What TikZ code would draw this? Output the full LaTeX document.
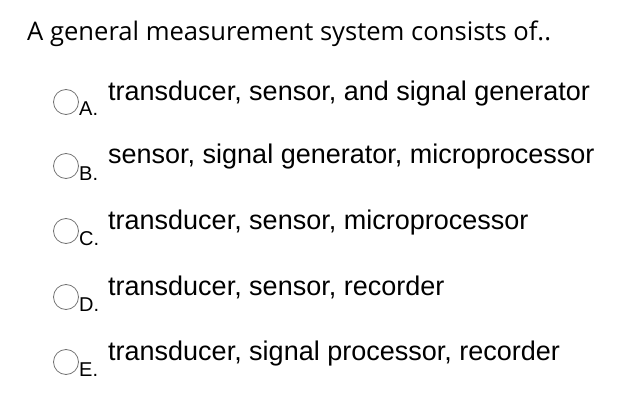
\documentclass[tikz,border=0pt]{standalone}
\usepackage{fontspec}
\setmainfont{Liberation Sans}
\newfontfamily\titlefont{Open Sans}
\begin{document}
\begin{tikzpicture}[x=1pt,y=-1pt,
  radio/.style={circle,draw=black!55,line width=0.8pt,minimum size=25pt,inner sep=0pt},
  letter/.style={anchor=base west,inner sep=0pt,font=\fontsize{20}{20}\selectfont},
  opt/.style={anchor=base west,inner sep=0pt,font=\fontsize{27}{27}\selectfont}]
\useasboundingbox (0,0) rectangle (638,412);
\node[anchor=base west,inner sep=0pt,font=\titlefont\fontsize{25.6}{26}\selectfont] (title) at (27,41) {A general measurement system consists of..};
\foreach \n/\y/\L/\t in {a/102/A./{transducer, sensor, and signal generator},
  b/166/B./{sensor, signal generator, microprocessor},
  c/231/C./{transducer, sensor, microprocessor},
  d/297/D./{transducer, sensor, recorder},
  e/362/E./{transducer, signal processor, recorder}}{
  \node[radio] (r\n) at (66,\y) {};
  \node[letter] (l\n) at (79,\y+14) {\L};
  \node[opt] (o\n) at (108,\y-2) {\t};
}
\end{tikzpicture}
\end{document}
